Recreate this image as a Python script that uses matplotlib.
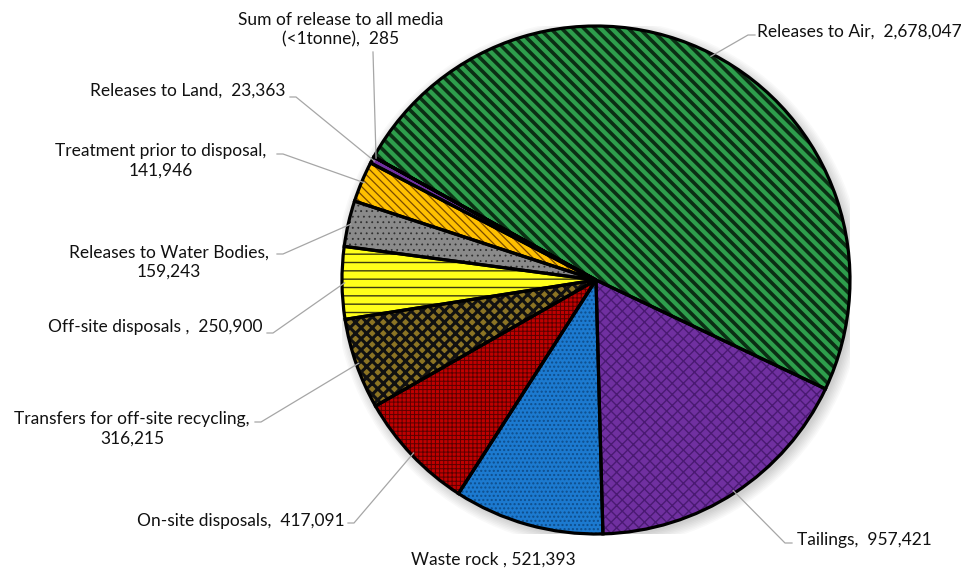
import numpy as np
import matplotlib
matplotlib.use("Agg")
import matplotlib.pyplot as plt

plt.rcParams["font.family"] = ["Lato", "DejaVu Sans"]

# Release and transfer quantities, in pie order (clockwise from the Air wedge)
names = [
    "Releases to Air",
    "Tailings",
    "Waste rock ",
    "On-site disposals",
    "Transfers for off-site recycling",
    "Off-site disposals ",
    "Releases to Water Bodies",
    "Treatment prior to disposal",
    "Releases to Land",
    "Sum of release to all media\n(<1tonne)",
]
values = [2678047, 957421, 521393, 417091, 316215, 250900, 159243, 141946, 23363, 285]
label_breaks = ["  ", "  ", " ", "  ", "\n", "  ", "\n", "\n", "  ", "  "]

# Wedge styling: fill, hatch, hatch colour, hatch width
fills = ["#2E9E4C", "#7030A0", "#1C7AD0", "#C00000", "#8C7424",
         "#FFFF1A", "#8A8A8A", "#FFC000", "#7030A0", "#2E75B6"]
hatches = ["\\\\\\", "xxx", "....", "++++", "xxx", "--", "...", "\\\\\\\\", "", ""]
hatch_cols = ["#0B2E14", "#4A1A72", "#0F4E8C", "#5A0000", "#111111",
              "#3A3A10", "#303030", "#7A4A00", "#000000", "#000000"]
hatch_lws = [2.6, 1.0, 1.0, 0.7, 2.2, 1.0, 0.6, 0.9, 1.0, 1.0]

# Label layout in pixel coordinates: text anchor, alignment, leader start/elbow
label_pos = [(757, 32), (797, 540), (493, 560), (345, 521), (132, 429),
             (263, 327), (169, 262), (161, 161), (285, 91), (341, 30)]
label_ha = ["left", "left", "center", "right", "center",
            "right", "center", "center", "right", "center"]
leader_start = [(755, 35), (792, 543), None, (348, 523), (255, 422),
                (267, 333), (277, 254), (277, 154), (290, 97), (373, 52)]
leader_elbow = [(748, 35), (785, 543), None, (354, 523), (261, 422),
                (273, 333), (283, 254), (283, 154), (296, 97), None]

W, H = 966, 573
fig = plt.figure(figsize=(W / 100, H / 100), dpi=100)
fig.patch.set_facecolor("white")

cx, cy, R = 596, 280, 254
ax = fig.add_axes([(cx - R) / W, (H - cy - R) / H, 2 * R / W, 2 * R / H])

# soft shadow under the pie
for k in range(8):
    ax.add_patch(plt.Circle((0.012, -0.014), 1.0 + 0.006 * k, color="black",
                            alpha=0.025, lw=0, zorder=0))

wedges, _ = ax.pie(values, radius=1, startangle=151, counterclock=False,
                   colors=fills, wedgeprops=dict(linewidth=0))
for w, h, hc, hl in zip(wedges, hatches, hatch_cols, hatch_lws):
    w.set_zorder(1)
    if h:
        w.set_edgecolor(hc)
        w.set_linewidth(0)
        w.set_hatch(h)
        try:
            w.set_hatch_linewidth(hl)
        except AttributeError:
            pass

# black outlines drawn over the hatched fills
outlines, _ = ax.pie(values, radius=1, startangle=151, counterclock=False,
                     wedgeprops=dict(fill=False, edgecolor="black", linewidth=2.3))
for w in outlines:
    w.set_zorder(2)

ax.set_xlim(-1, 1)
ax.set_ylim(-1, 1)
ax.axis("off")

# overlay in pixel units for labels and leader lines
ov = fig.add_axes([0, 0, 1, 1])
ov.set_xlim(0, W)
ov.set_ylim(H, 0)
ov.axis("off")
ov.patch.set_alpha(0)

to_px = ov.transData.inverted()
for i, w in enumerate(wedges):
    label = f"{names[i]},{label_breaks[i]}{values[i]:,}"
    x, y = label_pos[i]
    ov.text(x, y, label, ha=label_ha[i], va="center", multialignment="center",
            fontsize=12.5, color="#111111", linespacing=1.25)
    if leader_start[i] is None:
        continue
    mid = np.deg2rad((w.theta1 + w.theta2) / 2)
    edge = to_px.transform(ax.transData.transform((0.99 * np.cos(mid), 0.99 * np.sin(mid))))
    pts = [leader_start[i]]
    if leader_elbow[i] is not None:
        pts.append(leader_elbow[i])
    pts.append(tuple(edge))
    pts = np.array(pts)
    ov.plot(pts[:, 0], pts[:, 1], color="#A6A6A6", lw=0.9, zorder=3)

fig.savefig("out.png", dpi=100, facecolor="white")
